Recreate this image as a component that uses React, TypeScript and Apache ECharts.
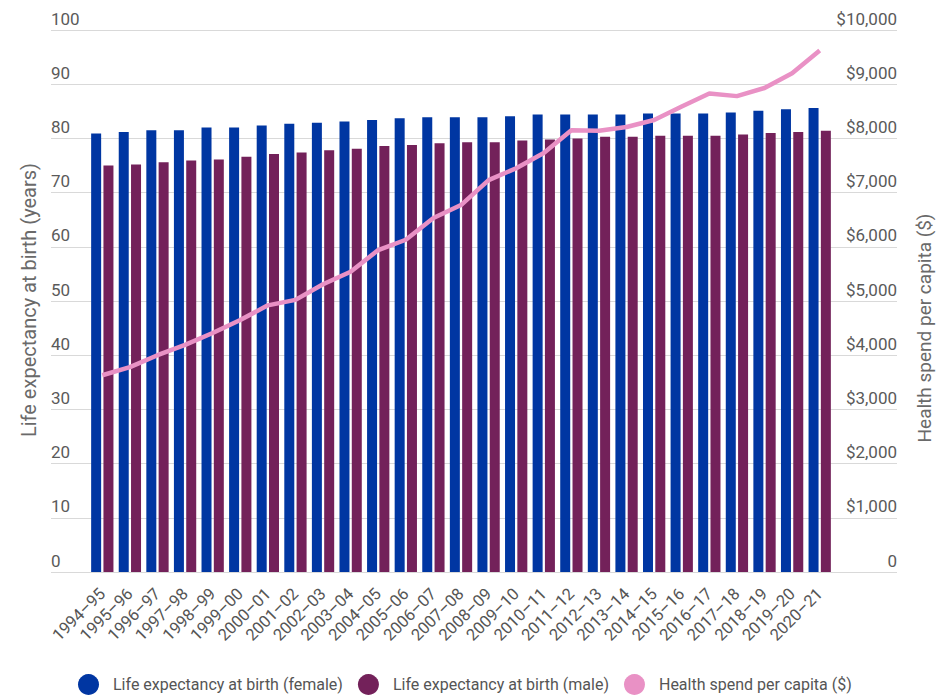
import React, { useEffect, useRef } from "react";
import * as echarts from "echarts";

const years: string[] = [
  "1994–95", "1995–96", "1996–97", "1997–98", "1998–99", "1999–00", "2000–01",
  "2001–02", "2002–03", "2003–04", "2004–05", "2005–06", "2006–07", "2007–08",
  "2008–09", "2009–10", "2010–11", "2011–12", "2012–13", "2013–14", "2014–15",
  "2015–16", "2016–17", "2017–18", "2018–19", "2019–20", "2020–21",
];

const lifeFemale: number[] = [
  80.9, 81.2, 81.5, 81.5, 82.0, 82.0, 82.4, 82.7, 82.9, 83.1, 83.4, 83.7, 83.9, 83.9,
  83.9, 84.1, 84.4, 84.4, 84.4, 84.4, 84.6, 84.6, 84.6, 84.8, 85.1, 85.4, 85.6,
];

const lifeMale: number[] = [
  75.0, 75.2, 75.6, 75.9, 76.1, 76.6, 77.1, 77.4, 77.8, 78.1, 78.6, 78.8, 79.1, 79.3,
  79.3, 79.6, 79.8, 80.0, 80.3, 80.3, 80.5, 80.5, 80.5, 80.7, 81.0, 81.2, 81.4,
];

const healthSpend: number[] = [
  3630, 3780, 4000, 4190, 4410, 4650, 4920, 5020, 5310, 5540, 5940, 6130, 6530, 6770,
  7230, 7450, 7730, 8150, 8140, 8210, 8340, 8590, 8830, 8780, 8930, 9200, 9620,
];

const NAME_FEMALE = "Life expectancy at birth (female)";
const NAME_MALE = "Life expectancy at birth (male)";
const NAME_SPEND = "Health spend per capita ($)";

const FONT = "Roboto, 'Noto Sans', sans-serif";

export default function App() {
  const ref = useRef<HTMLDivElement>(null);

  useEffect(() => {
    if (!ref.current) return;
    const chart = echarts.init(ref.current, undefined, { renderer: "svg" });

    const option: echarts.EChartsOption = {
      animation: false,
      backgroundColor: "#ffffff",
      textStyle: { fontFamily: FONT },
      grid: [
        // wide grid: gridlines and both value-axis labels
        { left: 51, right: 51, top: 30, bottom: 123 },
        // narrower grid holding the bars and the line
        { left: 88.5, right: 114.5, top: 30, bottom: 123 },
      ],
      xAxis: [
        { type: "value", gridIndex: 0, show: false, min: 0, max: 1 },
        {
          type: "category",
          gridIndex: 1,
          data: years,
          axisLine: { show: false },
          axisTick: { show: false },
          axisLabel: {
            rotate: 45,
            interval: 0,
            margin: 19,
            fontSize: 16.5,
            color: "#555555",
            fontFamily: FONT,
          },
        },
      ],
      yAxis: [
        {
          type: "value",
          gridIndex: 0,
          position: "left",
          min: 0,
          max: 100,
          interval: 10,
          axisLine: { show: false },
          axisTick: { show: false },
          splitLine: { show: true, lineStyle: { color: "#d9d9d9", width: 1 } },
          axisLabel: {
            inside: true,
            margin: 0,
            fontSize: 17,
            color: "#5a5a5a",
            verticalAlign: "bottom",
            padding: [0, 0, 3, 0],
            fontFamily: FONT,
          },
        },
        {
          type: "value",
          gridIndex: 0,
          position: "right",
          min: 0,
          max: 10000,
          interval: 1000,
          axisLine: { show: false },
          axisTick: { show: false },
          splitLine: { show: false },
          axisLabel: {
            inside: true,
            margin: 0,
            fontSize: 17,
            color: "#5a5a5a",
            verticalAlign: "bottom",
            padding: [0, 0, 3, 0],
            fontFamily: FONT,
            formatter: (v: number) =>
              v === 0 ? "0" : "$" + v.toLocaleString("en-US"),
          },
        },
        { type: "value", gridIndex: 1, min: 0, max: 100, show: false },
        { type: "value", gridIndex: 1, min: 0, max: 10000, show: false, position: "right" },
      ],
      legend: {
        data: [NAME_FEMALE, NAME_MALE, NAME_SPEND],
        icon: "circle",
        itemWidth: 21,
        itemHeight: 21,
        itemGap: 15,
        left: 78,
        top: 674,
        padding: 0,
        textStyle: {
          fontSize: 16,
          color: "#555555",
          fontFamily: FONT,
          padding: [0, 0, 0, 9],
        },
      },
      graphic: [
        {
          type: "text",
          x: 29,
          y: 300,
          rotation: Math.PI / 2,
          style: {
            text: "Life expectancy at birth (years)",
            fontSize: 20,
            fontFamily: FONT,
            fill: "#6a6a6a",
            textAlign: "center",
            textVerticalAlign: "middle",
          },
        },
        {
          type: "text",
          x: 924,
          y: 328,
          rotation: Math.PI / 2,
          style: {
            text: "Health spend per capita ($)",
            fontSize: 19,
            fontFamily: FONT,
            fill: "#6a6a6a",
            textAlign: "center",
            textVerticalAlign: "middle",
          },
        },
      ],
      series: [
        {
          name: NAME_FEMALE,
          type: "bar",
          xAxisIndex: 1,
          yAxisIndex: 2,
          data: lifeFemale,
          barWidth: 10,
          barGap: "23%",
          itemStyle: { color: "#0036a2" },
        },
        {
          name: NAME_MALE,
          type: "bar",
          xAxisIndex: 1,
          yAxisIndex: 2,
          data: lifeMale,
          barWidth: 10,
          barGap: "23%",
          itemStyle: { color: "#73215a" },
        },
        {
          name: NAME_SPEND,
          type: "line",
          xAxisIndex: 1,
          yAxisIndex: 3,
          data: healthSpend,
          symbol: "none",
          z: 5,
          lineStyle: { color: "#e991c5", width: 4.5 },
          itemStyle: { color: "#e991c5" },
        },
      ],
    };

    chart.setOption(option);
    return () => chart.dispose();
  }, []);

  return (
    <div
      ref={ref}
      style={{ position: "fixed", left: 0, top: 0, width: 948, height: 695 }}
    />
  );
}
